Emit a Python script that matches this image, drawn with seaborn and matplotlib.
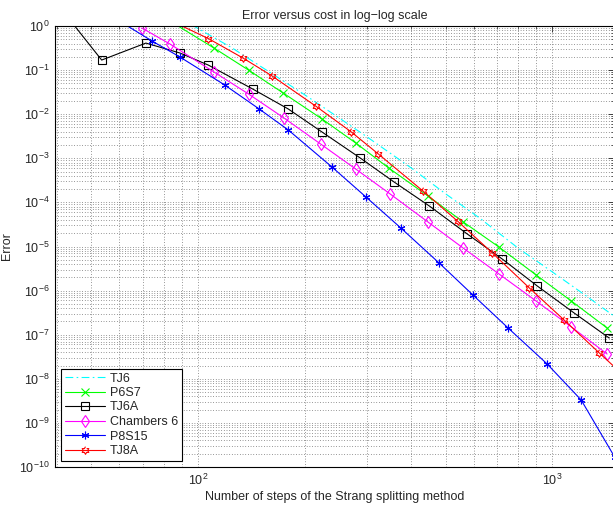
import numpy as np
import pandas as pd
import matplotlib
matplotlib.use("Agg")
import matplotlib.pyplot as plt
from matplotlib.ticker import LogLocator, NullFormatter, FixedLocator
import seaborn as sns

# Data (cost = number of Strang steps, error)
tj6_x = [80, 100, 125, 150, 200, 250, 300, 400, 500, 625, 800, 1000, 1250, 1600]
tj6_y = [2.56, 0.88, 0.317, 0.123, 0.0277, 8.3e-3, 3.07e-3, 6.05e-4, 1.57e-4,
         4.38e-5, 9.3e-6, 2.67e-6, 7.5e-7, 1.78e-7]

p6s7_x = [84, 111, 139, 174, 224, 279, 346, 446, 561, 708, 901, 1133, 1429]
p6s7_y = [1.25, 0.317, 0.1, 0.0303, 7.8e-3, 2.22e-3, 6.0e-4, 1.4e-4, 3.6e-5,
          9.7e-6, 2.26e-6, 5.8e-7, 1.42e-7]

tj6a_x = [36, 53.5, 71.3, 89, 107, 143, 180, 224, 287, 358, 450, 576, 723, 908, 1154, 1449]
tj6a_y = [9.4, 0.169, 0.41, 0.244, 0.13, 0.037, 0.0131, 3.95e-3, 1.02e-3, 2.9e-4,
          8.3e-5, 1.92e-5, 5.2e-6, 1.27e-6, 3.1e-7, 8.4e-8]

ch6_x = [69.5, 83.4, 111, 139, 175, 222, 279, 349, 446, 561, 708, 901, 1133, 1429]
ch6_y = [0.9, 0.39, 0.0906, 0.0287, 8.2e-3, 2.11e-3, 5.7e-4, 1.55e-4, 3.6e-5,
         9.2e-6, 2.38e-6, 5.8e-7, 1.5e-7, 3.65e-8]

p8s15_x = [60, 74.2, 89, 119, 149, 180, 239, 298, 374, 480, 598, 751, 968, 1208, 1500]
p8s15_y = [1.3, 0.457, 0.198, 0.046, 0.0131, 4.38e-3, 6.35e-4, 1.33e-4, 2.63e-5,
           4.2e-6, 7.9e-7, 1.42e-7, 2.17e-8, 3.3e-9, 1.7e-10]

tj8a_x = [81, 107, 134, 162, 215, 270, 322, 432, 542, 676, 862, 1081, 1359, 1728]
tj8a_y = [1.5, 0.52, 0.188, 0.0735, 0.0153, 4.05e-3, 1.28e-3, 1.81e-4, 3.7e-5,
          7.3e-6, 1.15e-6, 2.15e-7, 3.85e-8, 6.5e-9]

x_ticks = [100, 1000]
y_ticks = [10.0 ** k for k in range(-10, 1)]

sns.set_style("white")
plt.rcParams['font.family'] = ['Liberation Sans', 'DejaVu Sans']
plt.rcParams['mathtext.default'] = 'regular'
plt.rcParams['font.size'] = 9

# hexagram marker (MATLAB 'h')
ang = np.deg2rad(90 + 30 * np.arange(12))
rad = np.where(np.arange(12) % 2 == 0, 1.0, 1 / np.sqrt(3))
hexagram = list(zip(rad * np.cos(ang), rad * np.sin(ang)))
asterisk = (6, 2, 0)

fig = plt.figure(figsize=(6.13, 5.05), dpi=100)
ax = fig.add_axes([55 / 613, 38 / 505, 558.5 / 613, 441 / 505])
ax.set_xscale('log')
ax.set_yscale('log')

series = [
    ("TJ6", tj6_x, tj6_y, "cyan", None, (0, (7, 3, 1.5, 3))),
    ("P6S7", p6s7_x, p6s7_y, "lime", "x", "-"),
    ("TJ6A", tj6a_x, tj6a_y, "black", "s", "-"),
    ("Chambers 6", ch6_x, ch6_y, "magenta", "d", "-"),
    ("P8S15", p8s15_x, p8s15_y, "blue", asterisk, "-"),
    ("TJ8A", tj8a_x, tj8a_y, "red", hexagram, "-"),
]
for name, xs, ys, col, mk, ls in series:
    kw = dict(linestyle=ls, linewidth=0.8)
    if mk is not None:
        kw.update(marker=mk, markersize=5.5 if mk != "d" else 6.5,
                  markerfacecolor='none', markeredgecolor=col, markeredgewidth=0.8)
    sns.lineplot(x=xs, y=ys, ax=ax, color=col, label=name, estimator=None,
                 sort=False, **kw)

ax.set_xlim(39.5, 1490)
ax.set_ylim(1e-10, 1)
ax.xaxis.set_major_locator(FixedLocator(x_ticks))
ax.yaxis.set_major_locator(FixedLocator(y_ticks))
ax.yaxis.set_minor_locator(LogLocator(base=10, subs=np.arange(2, 10), numticks=20))
ax.yaxis.set_minor_formatter(NullFormatter())
ax.xaxis.set_minor_locator(LogLocator(base=10, subs=np.arange(2, 10), numticks=20))
ax.xaxis.set_minor_formatter(NullFormatter())

ax.grid(True, which='both', linestyle=(0, (1, 2.5)), color='0.35', linewidth=0.55)
ax.tick_params(which='both', direction='in', top=True, right=True, labelsize=9, pad=4)
ax.tick_params(which='major', length=4, width=0.6)
ax.tick_params(which='minor', length=2, width=0.5)
for s in ax.spines.values():
    s.set_color('black')
    s.set_linewidth(0.8)

ax.set_xlabel("Number of steps of the Strang splitting method", fontsize=9, labelpad=2)
ax.set_ylabel("Error", fontsize=9, labelpad=4)
ax.set_title("Error versus cost in log\u2212log scale", fontsize=9, pad=5)

leg = ax.legend(loc='lower left', fontsize=9, numpoints=1, handlelength=3.2,
                handletextpad=0.4, labelspacing=0.2, borderpad=0.3,
                borderaxespad=0.5, fancybox=False, framealpha=1)
leg.get_frame().set_edgecolor('black')
leg.get_frame().set_linewidth(0.8)

fig.savefig("out.png", dpi=100)
